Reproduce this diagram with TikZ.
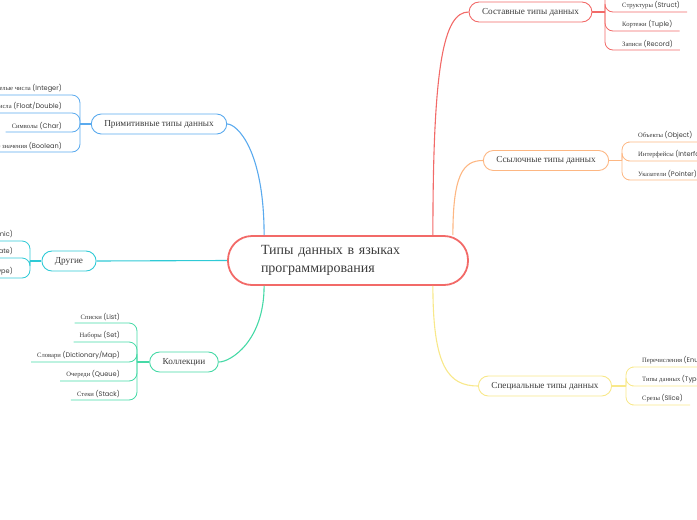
\documentclass[tikz,border=0pt]{standalone}
\usepackage{fontspec}
\setmainfont{Liberation Serif}
\newfontfamily\latfont{Poppins}
\usetikzlibrary{positioning}

\definecolor{redline}{HTML}{F26A68}
\definecolor{orangeline}{HTML}{FDB783}
\definecolor{yellowline}{HTML}{F8E88A}
\definecolor{blueline}{HTML}{5AAAEE}
\definecolor{cyanline}{HTML}{2FCAD6}
\definecolor{greenline}{HTML}{45D9A6}
\definecolor{textgray}{HTML}{3C3C3C}

\newcommand{\lat}[1]{{\latfont\fontsize{6.6}{8}\selectfont #1}}

\begin{document}
\begin{tikzpicture}[x=1pt, y=-1pt,
    root/.style={draw=redline, line width=1.8pt, rounded corners=24pt, minimum width=240pt,
      minimum height=49pt, text width=174pt, align=left, inner xsep=33pt,
      font=\fontsize{14}{18}\selectfont, text=textgray},
    branch/.style={draw=#1, fill=white, line width=0.9pt, rounded corners=10pt, minimum height=20pt,
      inner xsep=13pt, font=\fontsize{9.2}{11}\selectfont, text=textgray},
    leaf/.style={inner xsep=2pt, inner ysep=2.5pt, font=\fontsize{6.6}{8}\selectfont, text=textgray},
    conn/.style={draw=#1, line width=1.1pt},
    twig/.style={draw=#1, line width=0.8pt, rounded corners=8pt}
  ]
  \useasboundingbox (0,0) rectangle (697,520);
  \clip (0,0) rectangle (697,520);

  % Центр
  \node[root] (root) at (348,260.5) {Типы данных в языках\\программирования};

  % Ветви
  \node[branch=redline] (compound) at (530.5,12) {Составные типы данных};
  \node[branch=orangeline] (reference) at (546,160.5) {Ссылочные типы данных};
  \node[branch=yellowline] (special) at (545,386) {Специальные типы данных};
  \node[branch=blueline] (primitive) at (159,124) {Примитивные типы данных};
  \node[branch=cyanline] (other) at (69,261) {Другие};
  \node[branch=greenline] (collections) at (184,362) {Коллекции};

  % Связи от центра
  \draw[conn=redline] ([xshift=-36pt]root.north east) .. controls +(0,-170) and +(-25,0) .. (compound.west);
  \draw[conn=orangeline] ([xshift=-16pt]root.north east) .. controls +(0,-60) and +(-20,0) .. (reference.west);
  \draw[conn=yellowline] ([xshift=-36pt]root.south east) .. controls +(0,80) and +(-30,0) .. (special.west);
  \draw[conn=blueline] ([xshift=37pt]root.north west) .. controls +(0,-85) and +(10,0) .. (primitive.east);
  \draw[conn=cyanline] (root.west) -- (other.east);
  \draw[conn=greenline] ([xshift=37pt]root.south west) .. controls +(0,55) and +(12,0) .. (collections.east);

  % Составные
  \coordinate (hubC) at (605,12);
  \draw[conn=redline] (compound.east) -- (hubC);
  \node[leaf, anchor=south west] (struct) at (620,12) {Структуры \lat{(Struct)}};
  \node[leaf, anchor=south west] (tuple) at (620,31) {Кортежи \lat{(Tuple)}};
  \node[leaf, anchor=south west] (record) at (620,50) {Записи \lat{(Record)}};
  \draw[twig=redline] (hubC) |- (640,-10);
  \foreach \n in {struct,tuple,record}
    \draw[twig=redline] (hubC) |- (\n.south west) -- ([xshift=5pt]\n.south east);

  % Ссылочные
  \coordinate (hubR) at (622,160.5);
  \draw[conn=orangeline] (reference.east) -- (hubR);
  \node[leaf, anchor=south west] (object) at (636,142) {Объекты \lat{(Object)}};
  \node[leaf, anchor=south west] (iface) at (636,161) {Интерфейсы \lat{(Interface)}};
  \node[leaf, anchor=south west] (pointer) at (636,180) {Указатели \lat{(Pointer)}};
  \foreach \n in {object,iface,pointer}
    \draw[twig=orangeline] (hubR) |- (\n.south west) -- ([xshift=5pt]\n.south east);

  % Специальные
  \coordinate (hubS) at (626,386);
  \draw[conn=yellowline] (special.east) -- (hubS);
  \node[leaf, anchor=south west] (enum) at (640,367) {Перечисления \lat{(Enum)}};
  \node[leaf, anchor=south west] (typ) at (640,386) {Типы данных \lat{(Type)}};
  \node[leaf, anchor=south west] (slice) at (640,405) {Срезы \lat{(Slice)}};
  \foreach \n in {enum,typ,slice}
    \draw[twig=yellowline] (hubS) |- (\n.south west) -- ([xshift=5pt]\n.south east);

  % Примитивные
  \coordinate (hubP) at (80,124);
  \draw[conn=blueline] (primitive.west) -- (hubP);
  \node[leaf, anchor=south east] (int) at (64,95) {Целые числа \lat{(Integer)}};
  \node[leaf, anchor=south east] (float) at (64,113) {Вещественные числа \lat{(Float/Double)}};
  \node[leaf, anchor=south east] (char) at (64,132) {Символы \lat{(Char)}};
  \node[leaf, anchor=south east] (bool) at (64,152) {Логические значения \lat{(Boolean)}};
  \foreach \n in {int,float,char,bool}
    \draw[twig=blueline] (hubP) |- (\n.south east) -- ([xshift=-4pt]\n.south west);

  % Другие
  \coordinate (hubO) at (30,261);
  \draw[conn=cyanline] (other.west) -- (hubO);
  \node[leaf, anchor=south east] (dyn) at (15,241) {Динамические \lat{(Dynamic)}};
  \node[leaf, anchor=south east] (tmpl) at (15,258) {Шаблоны \lat{(Template)}};
  \node[leaf, anchor=south east] (utype) at (15,278) {Пользовательские \lat{(User Type)}};
  \foreach \n in {dyn,tmpl,utype}
    \draw[twig=cyanline] (hubO) |- (\n.south east) -- ([xshift=-4pt]\n.south west);

  % Коллекции
  \coordinate (hubK) at (137,362);
  \draw[conn=greenline] (collections.west) -- (hubK);
  \node[leaf, anchor=south east] (list) at (122,323) {Списки \lat{(List)}};
  \node[leaf, anchor=south east] (set) at (122,342) {Наборы \lat{(Set)}};
  \node[leaf, anchor=south east] (dict) at (122,362) {Словари \lat{(Dictionary/Map)}};
  \node[leaf, anchor=south east] (queue) at (122,381) {Очереди \lat{(Queue)}};
  \node[leaf, anchor=south east] (stack) at (122,400) {Стеки \lat{(Stack)}};
  \foreach \n in {list,set,dict,queue,stack}
    \draw[twig=greenline] (hubK) |- (\n.south east) -- ([xshift=-4pt]\n.south west);
\end{tikzpicture}
\end{document}
